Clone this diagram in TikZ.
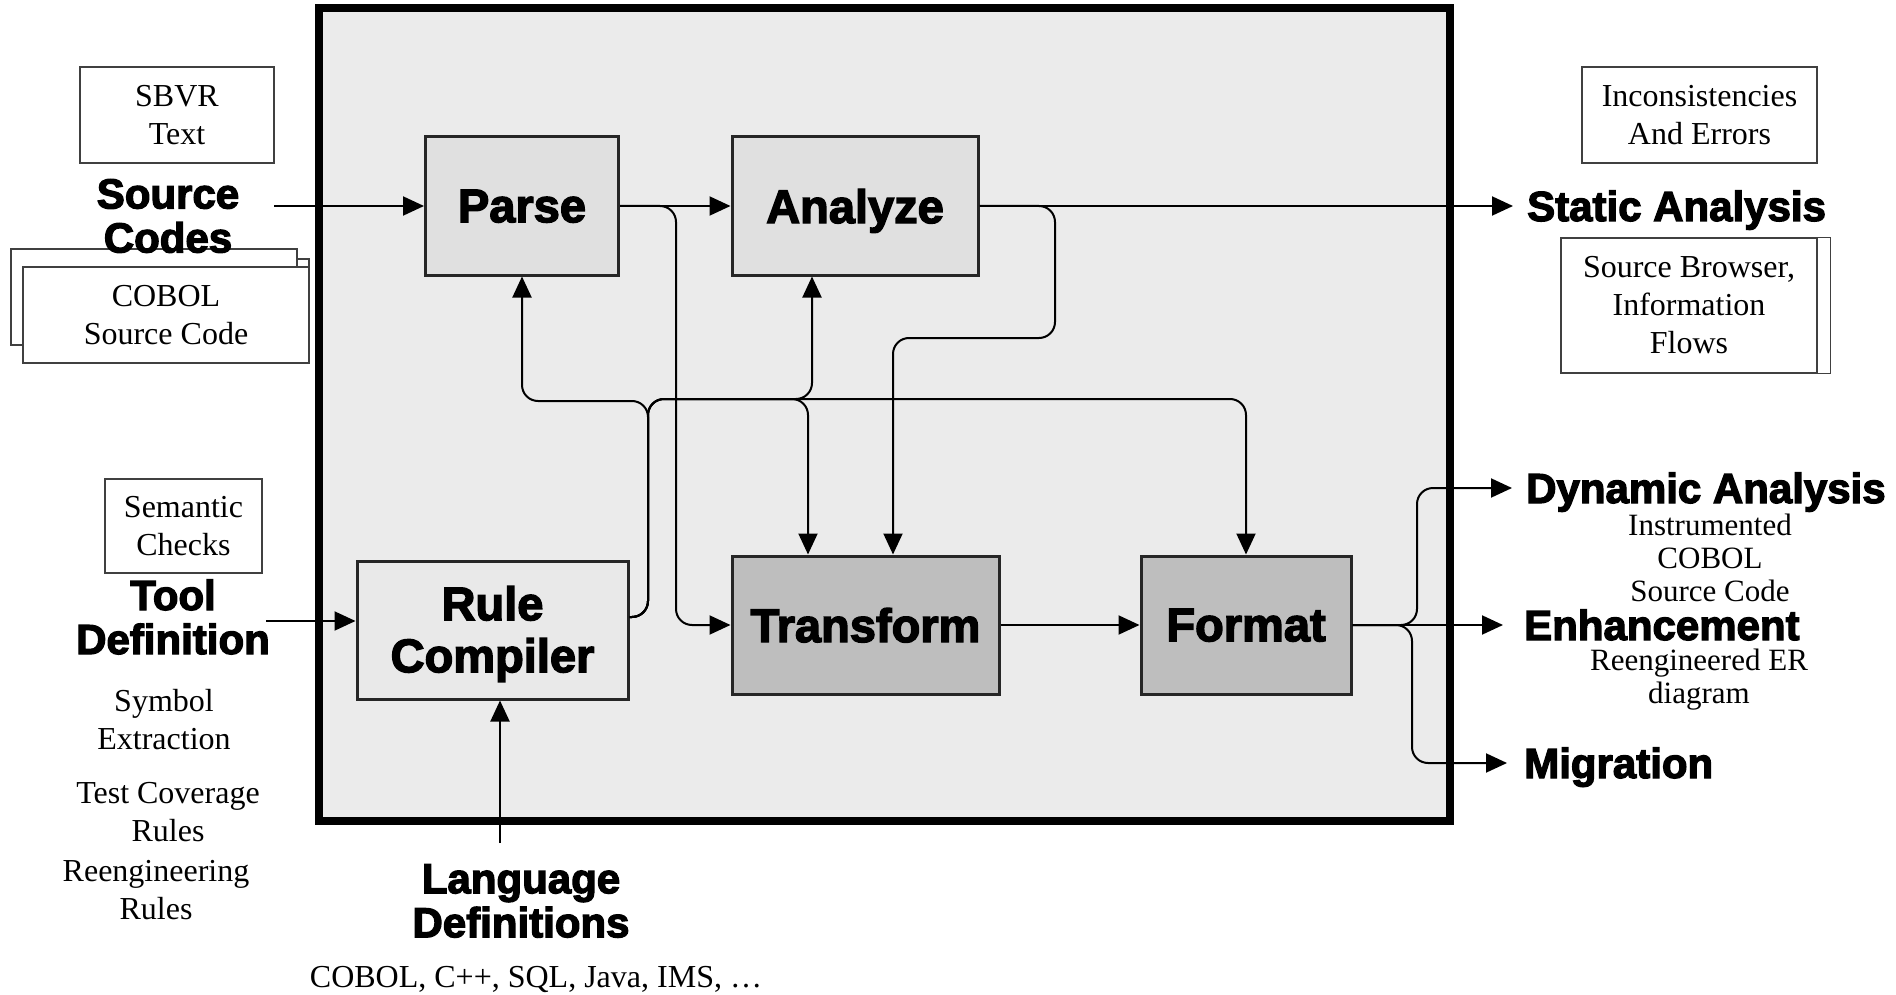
\documentclass[tikz,border=0pt]{standalone}
\usepackage{fontspec}
\setmainfont{Liberation Serif}
\newfontfamily\heavy{Liberation Sans}[BoldFeatures={FakeBold=3}]
\usetikzlibrary{arrows.meta}

\definecolor{panel}{HTML}{EBEBEB}
\definecolor{lightbox}{HTML}{E0E0E0}
\definecolor{rulebox}{HTML}{E9E9E9}
\definecolor{darkbox}{HTML}{BEBEBE}

\tikzset{
  stage/.style={draw=black!85, line width=3pt, align=center, inner sep=0pt, text depth=0pt,
    font=\heavy\bfseries\fontsize{47}{52}\selectfont},
  note/.style={draw=black!75, line width=1.3pt, fill=white, align=center, inner sep=0pt,
    font=\fontsize{32}{38}\selectfont},
  remark/.style={align=center, inner sep=0pt, font=\fontsize{32}{38}\selectfont},
  tightremark/.style={align=center, inner sep=0pt, font=\fontsize{31}{33}\selectfont},
  heading/.style={align=center, inner sep=0pt, font=\heavy\bfseries\fontsize{42}{44}\selectfont},
  outname/.style={anchor=west, inner sep=0pt, text height=30pt, text depth=0pt,
    font=\heavy\bfseries\fontsize{42}{44}\selectfont},
  flow/.style={line width=2pt, -{Triangle[length=21pt,width=19pt]}, rounded corners=16pt},
}

\begin{document}
\begin{tikzpicture}[x=1pt,y=-1pt]
\useasboundingbox (0,0) rectangle (1896,995);

% engine frame
\node[draw, line width=8pt, fill=panel, minimum width=1131pt, minimum height=813pt, inner sep=0pt]
  (engine) at (884.5,414.5) {};

% processing stages
\node[stage, fill=lightbox, minimum width=193pt, minimum height=138pt] (parse) at (522,206) {Parse};
\node[stage, fill=lightbox, minimum width=246pt, minimum height=138pt] (analyze) at (855,206) {Analyze};
\node[stage, fill=rulebox, minimum width=271pt, minimum height=138pt] (rc) at (492.5,630) {};
\node[align=center, inner sep=0pt, font=\heavy\bfseries\fontsize{47}{52}\selectfont]
  (rctext) at (492.5,634) {Rule\\Compiler};
\node[stage, fill=darkbox, minimum width=267pt, minimum height=138pt] (transform) at (865.5,625) {Transform};
\node[stage, fill=darkbox, minimum width=210pt, minimum height=138pt] (format) at (1246,625) {Format};

% inputs on the left
\node[note, minimum width=194pt, minimum height=96pt] (sbvr) at (177,115) {SBVR\\Text};
\node[note, minimum width=286pt, minimum height=96pt] (cobolback) at (154,297) {};
\draw[draw=black!75, line width=1.3pt] (297,259) -- (309,259) -- (309,267);
\node[note, minimum width=286pt, minimum height=96pt] (cobol) at (166,315) {COBOL\\Source Code};
\node[heading] (src) at (168,216) {Source\\Codes};

\node[note, minimum width=157pt, minimum height=94pt] (sem) at (183.5,526) {Semantic\\Checks};
\node[heading] (tool) at (173,617) {Tool\\Definition};
\node[remark] (sym) at (164,720) {Symbol\\Extraction};
\node[remark] (test) at (168,812) {Test Coverage\\Rules};
\node[remark] (reeng) at (156,890) {Reengineering\\Rules};

\node[heading] (lang) at (521,901) {Language\\Definitions};
\node[remark] (langlist) at (536,979) {COBOL, C++, SQL, Java, IMS, …};

% outputs on the right
\node[note, minimum width=235pt, minimum height=96pt] (incons) at (1699.5,115) {Inconsistencies\\And Errors};
\node[outname] (static) at (1527,206) {Static Analysis};
\node[note, minimum width=256pt, minimum height=135pt] (browser) at (1689,305.5) {Source Browser,\\Information\\Flows};
\draw[draw=black!75, line width=1.3pt] (browser.north east) -- ++(13,0) |- (browser.south east);

\node[outname] (dyn) at (1526,488) {Dynamic Analysis};
\node[tightremark] (instr) at (1710,558) {Instrumented\\COBOL\\Source Code};
\node[outname] (enh) at (1524,625) {Enhancement};
\node[tightremark] (reer) at (1699,680) {Reengineered ER\\diagram};
\node[outname] (mig) at (1524,763) {Migration};

% free ends of the incoming connectors
\coordinate (srcout) at (274,206);
\coordinate (toolout) at (266,621);
\coordinate (langout) at (500,843);

% incoming connectors
\draw[flow] (srcout) -- (srcout -| parse.west);
\draw[flow] (toolout) -- (toolout -| rc.west);
\draw[flow] (langout) -- (langout |- rc.south);

% main pipeline
\draw[flow] (parse.east) -- (analyze.west);
\draw[flow] (transform.east) -- (format.west);
\draw[flow] (parse.east) -| (676,625) -- (transform.west);
\draw[flow] (analyze.east) -| (1055,338) -| ([xshift=27.5pt]transform.north);
\draw[flow] (analyze.east) -- ([xshift=-14pt]static.west);

% rule compiler fan-out
\draw[flow] ([yshift=13pt]rc.east) -| (648,401) -| (parse.south);
\draw[flow] ([yshift=13pt]rc.east) -| (648,399) -| ([xshift=-43pt]analyze.south);
\draw[flow] ([yshift=13pt]rc.east) -| (648,399) -| ([xshift=-57.5pt]transform.north);
\draw[flow] ([yshift=13pt]rc.east) -| (648,399) -| (format.north);

% format fan-out
\draw[flow] (format.east) -| (1417,488) -- ([xshift=-14pt]dyn.west);
\draw[flow] (format.east) -- ([xshift=-21pt]enh.west);
\draw[flow] (format.east) -| (1412,763) -- ([xshift=-17pt]mig.west);
\end{tikzpicture}
\end{document}
